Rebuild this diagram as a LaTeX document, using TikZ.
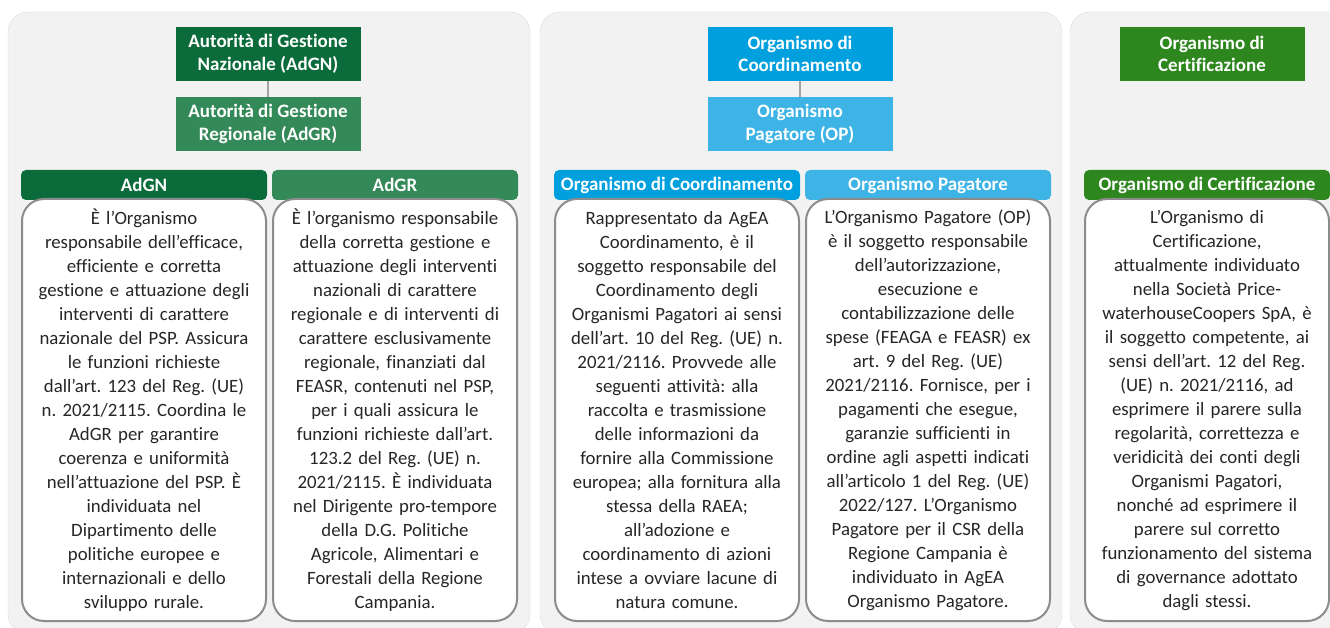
\documentclass[tikz,border=0pt]{standalone}
\usepackage{fontspec}
\setmainfont{Carlito}[Ligatures=NoCommon]

\definecolor{agnGreen}{RGB}{11,107,58}
\definecolor{agrGreen}{RGB}{52,137,88}
\definecolor{ocBlue}{RGB}{0,160,222}
\definecolor{opBlue}{RGB}{62,180,230}
\definecolor{ceGreen}{RGB}{45,135,30}
\definecolor{panelFill}{RGB}{242,242,242}
\definecolor{panelLine}{RGB}{222,222,222}
\definecolor{boxLine}{RGB}{140,140,140}
\definecolor{bodyText}{RGB}{38,38,38}

\begin{document}
\frenchspacing
\begin{tikzpicture}[x=1pt,y=-1pt]
\tikzstyle{panel}=[draw=panelLine,fill=panelFill,rounded corners=20pt]
\tikzstyle{topbox}=[text=white,font=\bfseries\fontsize{19}{22.5}\selectfont,align=center,minimum width=185pt,minimum height=54pt,inner sep=0pt]
\tikzstyle{bar}=[text=white,font=\bfseries\fontsize{19}{22}\selectfont,rounded corners=5pt,minimum width=246pt,minimum height=30pt,inner sep=0pt]
\tikzstyle{textbox}=[draw=boxLine,line width=2pt,fill=white,rounded corners=22pt,minimum width=244pt,minimum height=422pt,text width=240pt,align=center,inner sep=0pt,text=bodyText,font=\fontsize{18.8}{24}\selectfont]
\tikzstyle{link}=[draw=boxLine!80,line width=1.2pt]
\useasboundingbox (0,0) rectangle (1330,628);
\clip (0,0) rectangle (1330,628);
% three grey panels
\draw[panel] (8,12) rectangle (530,634);
\draw[panel] (540,12) rectangle (1062,634);
\draw[panel] (1070,12) rectangle (1350,634);

% hierarchy boxes
\node[topbox,fill=agnGreen] (adgn) at (268,54) {Autorità di Gestione\\Nazionale (AdGN)};
\node[topbox,fill=agrGreen] (adgr) at (268,124) {Autorità di Gestione\\Regionale (AdGR)};
\node[topbox,fill=ocBlue] (oc) at (800,54) {Organismo di\\Coordinamento};
\node[topbox,fill=opBlue] (op) at (800,124) {Organismo\\Pagatore (OP)};
\node[topbox,fill=ceGreen] (ce) at (1212,54) {Organismo di\\Certificazione};
\draw[link] (adgn) -- (adgr);
\draw[link] (oc) -- (op);

% column headers
\node[bar,fill=agnGreen] (hAdgn) at (144,185) {AdGN};
\node[bar,fill=agrGreen] (hAdgr) at (395,185) {AdGR};
\node[bar,fill=ocBlue] (hOc) at (677,185) {Organismo di Coordinamento};
\node[bar,fill=opBlue] (hOp) at (928,185) {Organismo Pagatore};
\node[bar,fill=ceGreen] (hCe) at (1207,185) {Organismo di Certificazione};

% descriptions
\node[textbox] (tAdgn) at (144,410) {È l’Organismo\\responsabile dell’efficace,\\efficiente e corretta\\gestione e attuazione degli\\interventi di carattere\\nazionale del PSP. Assicura\\le funzioni richieste\\dall’art. 123 del Reg. (UE)\\n. 2021/2115. Coordina le\\AdGR per garantire\\coerenza e uniformità\\nell’attuazione del PSP. È\\individuata nel\\Dipartimento delle\\politiche europee e\\internazionali e dello\\sviluppo rurale.};
\node[textbox] (tAdgr) at (395,410) {È l’organismo responsabile\\della corretta gestione e\\attuazione degli interventi\\nazionali di carattere\\regionale e di interventi di\\carattere esclusivamente\\regionale, finanziati dal\\FEASR, contenuti nel PSP,\\per i quali assicura le\\funzioni richieste dall’art.\\123.2 del Reg. (UE) n.\\2021/2115. È individuata\\nel Dirigente pro-tempore\\della D.G. Politiche\\Agricole, Alimentari e\\Forestali della Regione\\Campania.};
\node[textbox] (tOc) at (677,410) {Rappresentato da AgEA\\Coordinamento, è il\\soggetto responsabile del\\Coordinamento degli\\Organismi Pagatori ai sensi\\dell’art. 10 del Reg. (UE) n.\\2021/2116. Provvede alle\\seguenti attività: alla\\raccolta e trasmissione\\delle informazioni da\\fornire alla Commissione\\europea; alla fornitura alla\\stessa della RAEA;\\all’adozione e\\coordinamento di azioni\\intese a ovviare lacune di\\natura comune.};
\node[textbox] (tOp) at (928,410) {L’Organismo Pagatore (OP)\\è il soggetto responsabile\\dell’autorizzazione,\\esecuzione e\\contabilizzazione delle\\spese (FEAGA e FEASR) ex\\art. 9 del Reg. (UE)\\2021/2116. Fornisce, per i\\pagamenti che esegue,\\garanzie sufficienti in\\ordine agli aspetti indicati\\all’articolo 1 del Reg. (UE)\\2022/127. L’Organismo\\Pagatore per il CSR della\\Regione Campania è\\individuato in AgEA\\Organismo Pagatore.};
\node[textbox] (tCe) at (1207,410) {L’Organismo di\\Certificazione,\\attualmente individuato\\nella Società Price-\\waterhouseCoopers SpA, è\\il soggetto competente, ai\\sensi dell’art. 12 del Reg.\\(UE) n. 2021/2116, ad\\esprimere il parere sulla\\regolarità, correttezza e\\veridicità dei conti degli\\Organismi Pagatori,\\nonché ad esprimere il\\parere sul corretto\\funzionamento del sistema\\di governance adottato\\dagli stessi.};
\end{tikzpicture}
\end{document}
